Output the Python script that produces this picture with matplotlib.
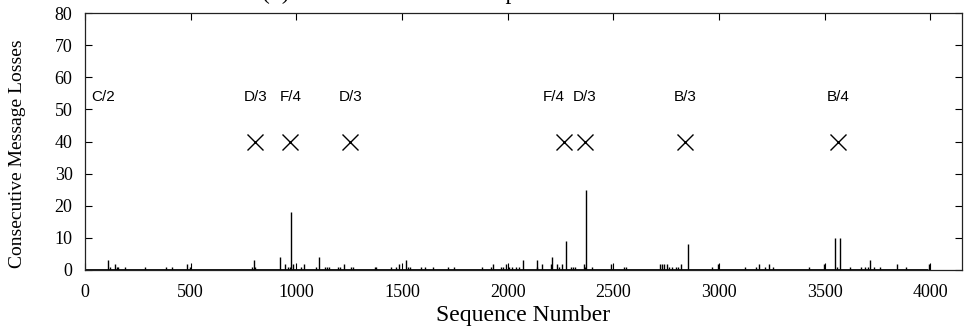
import numpy as np
import matplotlib
matplotlib.use("Agg")
import matplotlib.pyplot as plt

# consecutive losses per sequence number
seq = [111, 118, 142, 150, 155, 190, 284, 384, 411, 483, 499,
       790, 798, 806, 921, 948, 959, 968, 976, 984, 1024, 1034, 1095, 1106,
       1134, 1145, 1155, 1198, 1208, 1224, 1259, 1267, 1370,
       1379, 1449, 1472, 1485, 1518, 1527, 1537, 1592, 1611, 1648, 1719, 1745,
       1880, 1919, 1930, 1967, 1977, 1990, 2008, 2022, 2038, 2054,
       2074, 2137, 2141, 2161, 2204, 2212, 2235, 2243, 2256, 2276, 2302, 2309,
       2319, 2359, 2366, 2371, 2398, 2491, 2551, 2559, 2720, 2730, 2741,
       2753, 2764, 2780, 2796, 2804, 2820, 2852, 2965, 2994, 3125, 3175, 3191,
       3219, 3238, 3257, 3428,
       3496, 3547, 3557, 3575, 3621, 3673, 3693, 3704, 3717, 3733, 3764, 3843,
       3886, 3996]
losses = [3, 1, 2, 1, 1, 1, 1, 1, 1, 2, 1,
          1, 3, 1, 4, 2, 1, 1, 18, 2, 1, 2, 1, 4,
          1, 1, 1, 1, 1, 2, 1, 1, 1,
          1, 1, 1, 2, 3, 1, 1, 1, 1, 1, 1, 1,
          1, 1, 2, 1, 1, 2, 1, 1, 1, 1,
          3, 1, 3, 2, 2, 4, 2, 1, 2, 9, 1, 1,
          1, 2, 1, 25, 1, 2, 1, 1, 2, 2, 2,
          2, 1, 1, 1, 1, 2, 8, 1, 2, 1, 1, 2,
          1, 2, 1, 1,
          2, 10, 1, 10, 1, 1, 1, 1, 3, 1, 1, 2,
          1, 2]
last_seq = 3990

# events marked with crosses
event_seq = [806, 972, 1256, 2265, 2365, 2839, 3564]
event_y = 40
label_text = ["C/2", "D/3", "F/4", "D/3", "F/4", "D/3", "B/3", "B/4"]
label_seq = [85, 806, 972, 1256, 2220, 2365, 2839, 3564]
label_y = 54

plt.rcParams['font.family'] = ['Liberation Serif', 'DejaVu Serif']

fig = plt.figure(figsize=(9.64, 3.33), dpi=100)
ax = fig.add_axes([85 / 964, 1 - 270 / 333, (962 - 85) / 964, (270 - 13) / 333])

ax.vlines(seq, 0, losses, colors='black', linewidth=1.0)
ax.plot([0, last_seq], [0, 0], color='black', linewidth=2.0, solid_capstyle='butt')
ax.plot(event_seq, [event_y] * len(event_seq), 'x', color='black',
        markersize=11, markeredgewidth=1.0)
for t, s in zip(label_text, label_seq):
    ax.text(s, label_y, t, ha='center', va='center', fontsize=11,
            family=['Liberation Sans', 'DejaVu Sans'])

ax.set_xlim(0, 4150)
ax.set_ylim(0, 80)
ax.set_xticks(np.arange(0, 4001, 500))
ax.set_yticks(np.arange(0, 81, 10))
ax.tick_params(direction='in', length=5, width=0.8, labelsize=13,
               top=True, right=True)
ax.tick_params(axis='x', pad=10)
ax.tick_params(axis='y', pad=9)
for sp in ax.spines.values():
    sp.set_linewidth(0.9)
    sp.set_color('#222222')

ax.set_xlabel("Sequence Number", fontsize=17, va='center')
ax.xaxis.set_label_coords(0.5, (270 - 316) / 257)
ax.set_ylabel("Consecutive Message Losses", fontsize=14, va='center')
ax.yaxis.set_label_coords((18 - 85) / 877, (270 - 154) / 257)

# title sits mostly above the top edge, as in the source image
fig.text(262 / 964, 1 + 1 / 333, "(b) Losses at the receiver pool",
         fontsize=17, va='baseline', ha='left')

fig.savefig("out.png", dpi=100)
